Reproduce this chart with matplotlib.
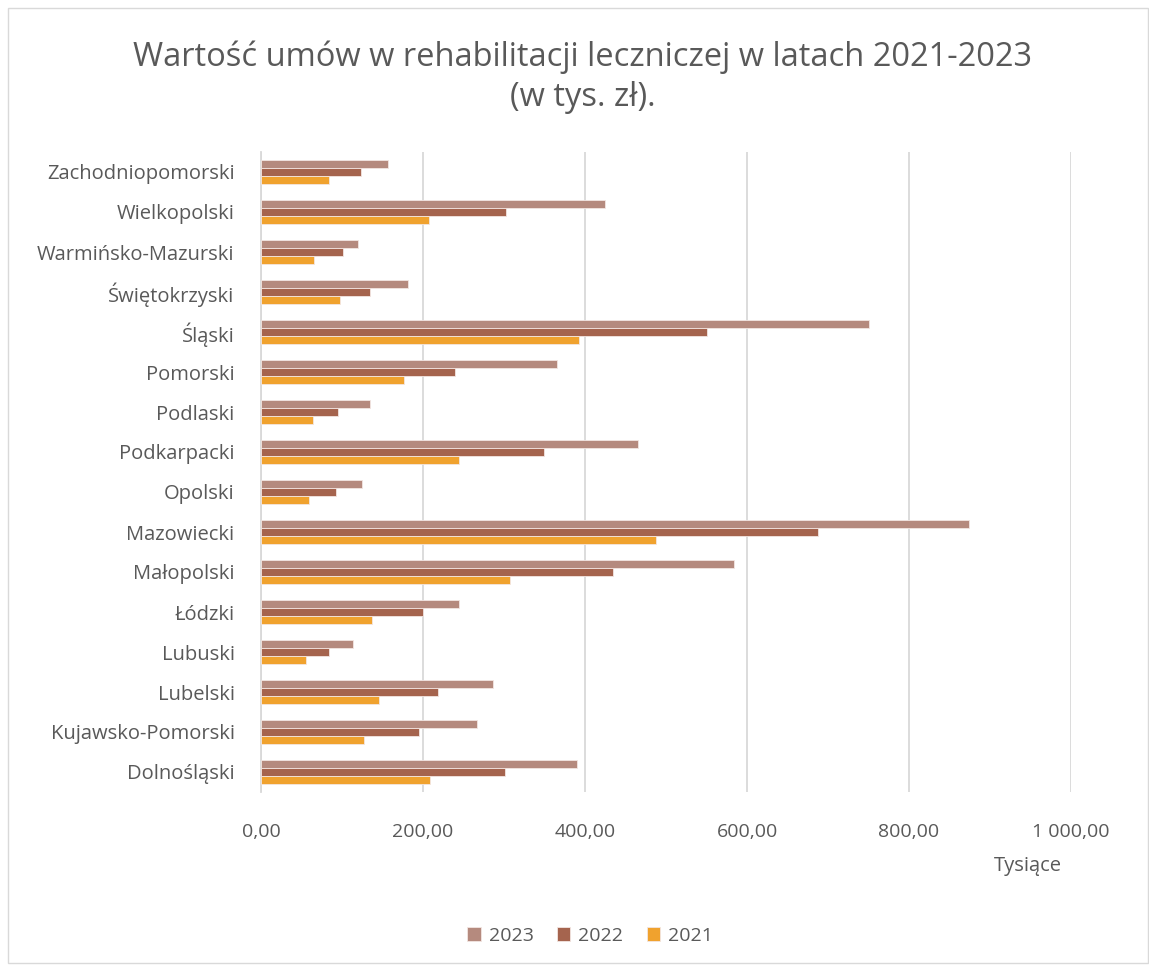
import numpy as np
import matplotlib.pyplot as plt
from matplotlib.patches import Rectangle

# regions listed bottom -> top (as drawn on the y axis)
regions = ['Dolnośląski', 'Kujawsko-Pomorski', 'Lubelski', 'Lubuski', 'Łódzki',
           'Małopolski', 'Mazowiecki', 'Opolski', 'Podkarpacki', 'Podlaski',
           'Pomorski', 'Śląski', 'Świętokrzyski', 'Warmińsko-Mazurski',
           'Wielkopolski', 'Zachodniopomorski']

v2023 = [390, 267, 286, 114, 244, 584, 874, 125, 466, 134, 366, 751, 181, 120, 425, 157]
v2022 = [301, 195, 219, 84, 200, 434, 688, 92, 349, 95, 240, 550, 134, 101, 303, 123]
v2021 = [209, 127, 146, 55, 137, 307, 488, 59, 245, 64, 177, 393, 98, 65, 208, 84]

years = ['2023', '2022', '2021']
colors = ['#B58A7E', '#A5644E', '#F0A22E']
gray = '#595959'

plt.rcParams['font.family'] = ['Open Sans', 'DejaVu Sans']

fig = plt.figure(figsize=(11.49, 9.66), dpi=100)
ax = fig.add_axes([261 / 1149, 1 - 792 / 966, (1071 - 261) / 1149, (792 - 152) / 966])

y = np.arange(len(regions))
h = 0.208
for vals, off, c, lab in zip([v2023, v2022, v2021], [h, 0, -h], colors, years):
    ax.barh(y + off, vals, height=h, color=c, edgecolor='#F3E6E2', linewidth=0.6, label=lab, zorder=3)

ax.set_xlim(0, 1000)
ax.set_ylim(-0.5, len(regions) - 0.5)
ax.set_xticks(range(0, 1001, 200))
ax.set_xticklabels(['0,00', '200,00', '400,00', '600,00', '800,00', '1 000,00'])
ax.set_yticks(y)
ax.set_yticklabels(regions)
ax.tick_params(axis='y', length=0, labelsize=14.5, colors=gray, pad=19)
ax.tick_params(axis='x', length=0, labelsize=14, colors=gray, pad=22)
ax.grid(axis='x', color='#D9D9D9', linewidth=1.3, zorder=0)
for s in ['top', 'right', 'bottom']:
    ax.spines[s].set_visible(False)
ax.spines['left'].set_color('#D9D9D9')
ax.spines['left'].set_linewidth(1.3)

fig.text(0.507, 1 - 77 / 966, 'Wartość umów w rehabilitacji leczniczej w latach 2021-2023\n(w tys. zł).',
         ha='center', va='center', fontsize=23.5, color=gray, linespacing=1.3)
fig.text(1062 / 1149, 1 - 866 / 966, 'Tysiące', ha='right', va='center', fontsize=14.5, color=gray)

leg = fig.legend(loc='center', bbox_to_anchor=(590 / 1149, 1 - 936 / 966), ncol=3, frameon=False,
                 fontsize=14, handlelength=0.7, handleheight=0.7, columnspacing=1.2, handletextpad=0.4)
for t in leg.get_texts():
    t.set_color(gray)

fig.patches.append(Rectangle((8 / 1149, 0.003), 1 - 9 / 1149, 1 - 8 / 966 - 0.003,
                             transform=fig.transFigure, fill=False, edgecolor='#D9D9D9', linewidth=1))

fig.savefig('out.png', dpi=100)
